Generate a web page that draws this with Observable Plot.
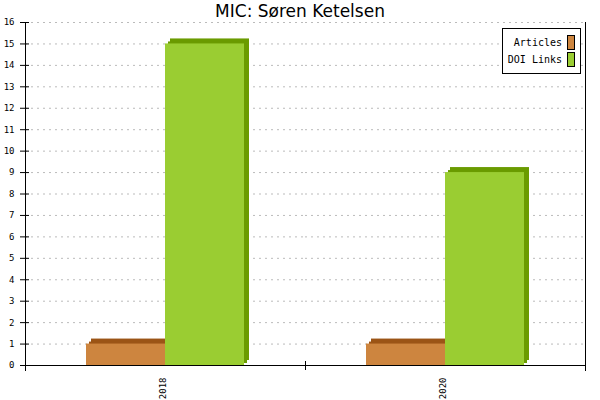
<!DOCTYPE html>
<html>
<head>
<meta charset="utf-8">
<script src="https://cdn.jsdelivr.net/npm/d3@7"></script>
<script src="https://cdn.jsdelivr.net/npm/@observablehq/plot@0.6"></script>
<style>
  html, body { margin: 0; padding: 0; background: white; }
  #wrap { position: relative; width: 600px; height: 400px; }
  #title { position: absolute; left: 0; top: 1px; width: 600px; text-align: center;
    font: 17px "DejaVu Sans", sans-serif; line-height: 20px; color: #000; }
  #legend { position: absolute; left: 502px; top: 28px; width: 77px; height: 44px;
    border: 1px solid #000; background: white; font: 10px "DejaVu Sans Mono", monospace; }
  .lrow { position: absolute; right: 5px; height: 14px; display: flex; align-items: center; }
  .sw { display: inline-block; width: 6px; height: 13px; border: 1px solid #000; margin-left: 5px; }
</style>
</head>
<body>
<div id="wrap">
  <div id="chart"></div>
  <div id="title"></div>
  <div id="legend"></div>
</div>
<script>
const title = "MIC: Søren Ketelsen";
const years = ["2018", "2020"];
const series = ["Articles", "DOI Links"];
const articles = [1, 1];
const doiLinks = [15, 9];
const yTicks = [0, 1, 2, 3, 4, 5, 6, 7, 8, 9, 10, 11, 12, 13, 14, 15, 16];
const frontColors = ["#cd853f", "#9acd32"];
const sideColors = ["#9b5416", "#6a9b00"];

const rows = years.flatMap((yr, i) => [
  {year: yr, series: series[0], value: articles[i]},
  {year: yr, series: series[1], value: doiLinks[i]}
]);
const front = d => frontColors[series.indexOf(d.series)];
const side = d => sideColors[series.indexOf(d.series)];

const H = 400, MT = 22, MB = 35;
const innerH = H - MT - MB;

const chart = Plot.plot({
  width: 600,
  height: H,
  marginTop: MT,
  marginBottom: MB,
  marginLeft: 25,
  marginRight: 15,
  style: {fontFamily: "DejaVu Sans Mono, monospace", fontSize: "9px", background: "white", overflow: "visible"},
  fx: {domain: years, padding: 0, axis: null, label: null},
  x: {domain: series, paddingInner: 0, paddingOuter: 0.772, axis: null},
  y: {domain: [0, 16], axis: null},
  marks: [
    Plot.gridY(yTicks, {stroke: "#bbb", strokeOpacity: 1, strokeDasharray: "2,4"}),
    Plot.barY(rows, {fx: "year", x: "series", y1: 0, y2: "value", fill: side, dx: 5, dy: -5, insetLeft: 0, insetRight: 0}),
    Plot.barY(rows, {fx: "year", x: "series", y1: 0, y2: "value", fill: side, dx: 3, dy: -2, insetLeft: 0, insetRight: 0}),
    Plot.barY(rows, {fx: "year", x: "series", y1: 0, y2: "value", fill: front, insetLeft: 0, insetRight: 0}),
    Plot.ruleY([0], {stroke: "black", strokeWidth: 1.2}),
    Plot.frame({anchor: "left", facetAnchor: "left", insetBottom: -5, stroke: "black"}),
    Plot.frame({anchor: "right", facetAnchor: "right", insetBottom: -5, stroke: "black"}),
    Plot.frame({anchor: "right", facetAnchor: "left", insetTop: innerH - 4, insetBottom: -4, stroke: "black"}),
    Plot.axisY(yTicks, {tickSize: 9, dx: 4, tickPadding: 6, label: null, stroke: "black", fill: "black", fontSize: 9}),
    Plot.text(years, {fx: d => d, text: d => d, frameAnchor: "bottom", rotate: -90, textAnchor: "end", dy: 12, fontSize: 9, fill: "black"})
  ]
});
document.getElementById("chart").appendChild(chart);
document.getElementById("title").textContent = title;

const legend = document.getElementById("legend");
series.forEach((s, i) => {
  const row = document.createElement("div");
  row.className = "lrow";
  row.style.top = (6 + i * 17) + "px";
  const t = document.createElement("span");
  t.textContent = s;
  const sw = document.createElement("span");
  sw.className = "sw";
  sw.style.background = frontColors[i];
  row.appendChild(t);
  row.appendChild(sw);
  legend.appendChild(row);
});
</script>
</body>
</html>
